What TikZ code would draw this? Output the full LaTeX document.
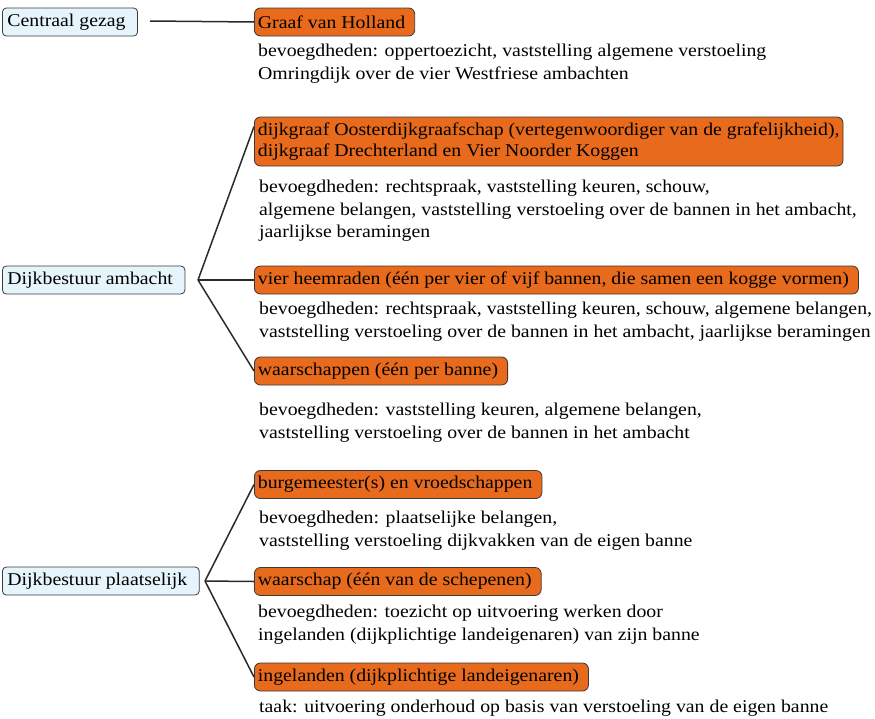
\documentclass[tikz,border=0pt]{standalone}
\usepackage{fontspec}
\setmainfont{Liberation Serif}[FakeStretch=1.10]
\usetikzlibrary{calc}
\definecolor{boxorange}{HTML}{E86A1C}
\definecolor{boxblue}{HTML}{E6F4FB}
\definecolor{boxline}{HTML}{3A3A3A}
\definecolor{connline}{HTML}{2A2A2A}
\tikzset{
  catbox/.style={draw=boxline, fill=boxblue, rounded corners=4pt, line width=0.8pt,
    anchor=west, inner xsep=5pt, minimum height=28pt, font=\fontsize{18}{20}\selectfont,
    execute at end node={\hspace*{7pt}}},
  orgbase/.style={draw=boxline, fill=boxorange, rounded corners=6pt, line width=0.8pt,
    anchor=west, inner xsep=3.5pt, minimum height=28pt},
  orgbox/.style={orgbase, font=\fontsize{18}{20}\selectfont,
    execute at end node={\hspace*{6pt}}},
  orgbox2/.style={orgbase, align=left, minimum height=49pt, font=\fontsize{18}{21.5}\selectfont},
  desc/.style={anchor=north west, align=left, inner sep=0pt, font=\fontsize{18}{22.5}\selectfont},
  conn/.style={draw=connline, line width=1.5pt}
}
\begin{document}
\begin{tikzpicture}[x=1pt,y=-1pt]
\useasboundingbox (0,0) rectangle (875,718);
% level 1
\node[catbox] (cg) at (2,22) {Centraal gezag};
\node[orgbox] (gvh) at (254,22) {Graaf van Holland};
\coordinate (cgr) at (150,21);
\draw[conn] (cgr) -- (gvh.west);
\node[desc] (d1) at (258,44.3) {bevoegdheden: oppertoezicht, vaststelling algemene verstoeling\\Omringdijk over de vier Westfriese ambachten};
% level 2
\node[catbox] (da) at (2,280) {Dijkbestuur ambacht};
\coordinate (b1) at (198,280);
\node[orgbox2] (dg) at (254,141.5) {dijkgraaf Oosterdijkgraafschap (vertegenwoordiger van de grafelijkheid),\\dijkgraaf Drechterland en Vier Noorder Koggen};
\node[desc] (d2) at (259,180) {bevoegdheden: rechtspraak, vaststelling keuren, schouw,\\algemene belangen, vaststelling verstoeling over de bannen in het ambacht,\\jaarlijkse beramingen};
\node[orgbox] (hr) at (254,280) {vier heemraden (één per vier of vijf bannen, die samen een kogge vormen)};
\node[desc] (d3) at (259,302) {bevoegdheden: rechtspraak, vaststelling keuren, schouw, algemene belangen,\\vaststelling verstoeling over de bannen in het ambacht, jaarlijkse beramingen};
\node[orgbox] (ws) at (254,371) {waarschappen (één per banne)};
\node[desc] (d4) at (259,403) {bevoegdheden: vaststelling keuren, algemene belangen,\\vaststelling verstoeling over de bannen in het ambacht};
\draw[conn] (b1) -- ($(dg.north west)+(0,10)$);
\draw[conn] (b1) -- (hr.west);
\draw[conn] (b1) -- (ws.west);
% level 3
\node[catbox] (dp) at (2,581) {Dijkbestuur plaatselijk};
\coordinate (b2) at (205,581);
\node[orgbox] (bm) at (254,484.5) {burgemeester(s) en vroedschappen};
\node[desc] (d5) at (259,511) {bevoegdheden: plaatselijke belangen,\\vaststelling verstoeling dijkvakken van de eigen banne};
\node[orgbox] (wp) at (254,581.5) {waarschap (één van de schepenen)};
\node[desc] (d6) at (258,605) {bevoegdheden: toezicht op uitvoering werken door\\ingelanden (dijkplichtige landeigenaren) van zijn banne};
\node[orgbox] (il) at (254,677) {ingelanden (dijkplichtige landeigenaren)};
\node[desc] (d7) at (259,700) {taak: uitvoering onderhoud op basis van verstoeling van de eigen banne};
\draw[conn] (b2) -- (bm.west);
\draw[conn] (b2) -- (wp.west);
\draw[conn] (b2) -- (il.west);
\end{tikzpicture}
\end{document}
